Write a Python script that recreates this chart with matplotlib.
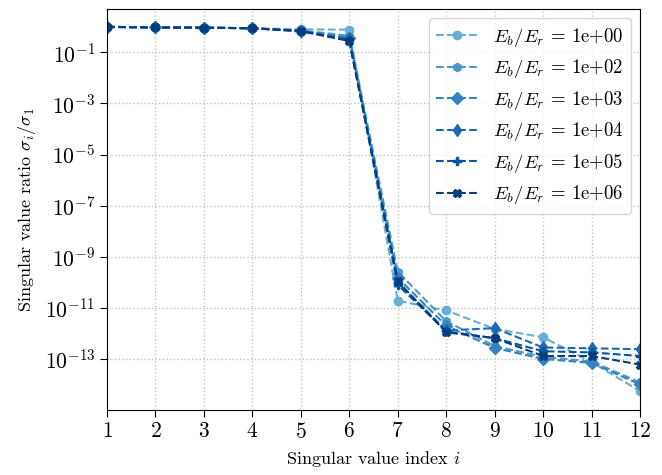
import numpy as np
import matplotlib
matplotlib.use("Agg")
import matplotlib.pyplot as plt

plt.rcParams['font.family'] = 'serif'
plt.rcParams['font.serif'] = ['cmr10', 'DejaVu Serif']
plt.rcParams['mathtext.fontset'] = 'cm'
plt.rcParams['axes.formatter.use_mathtext'] = True

idx = np.arange(1, 13)
labels = ['1e+00', '1e+02', '1e+03', '1e+04', '1e+05', '1e+06']
markers = ['o', 'h', 'D', 'd', 'P', 'X']

s_1e0 = [1, 0.95, 0.93, 0.88, 0.80, 0.78, 1.9e-11, 7.9e-12, 1.5e-12, 7.0e-13, 7.5e-14, 5.5e-15]
s_1e2 = [1, 0.95, 0.93, 0.88, 0.72, 0.45, 2.6e-10, 3.0e-12, 3.2e-13, 1.2e-13, 8.0e-14, 1.2e-14]
s_1e3 = [1, 0.95, 0.93, 0.88, 0.70, 0.38, 1.5e-10, 2.0e-12, 2.7e-13, 1.0e-13, 7.0e-14, 1.0e-14]
s_1e4 = [1, 0.95, 0.93, 0.88, 0.69, 0.33, 1.0e-10, 1.3e-12, 1.6e-12, 2.8e-13, 2.6e-13, 2.4e-13]
s_1e5 = [1, 0.95, 0.93, 0.88, 0.68, 0.30, 8.0e-11, 1.2e-12, 6.5e-13, 2.0e-13, 1.8e-13, 1.3e-13]
s_1e6 = [1, 0.95, 0.93, 0.88, 0.68, 0.28, 1.1e-10, 1.1e-12, 6.5e-13, 1.3e-13, 1.3e-13, 6.0e-14]
series = [s_1e0, s_1e2, s_1e3, s_1e4, s_1e5, s_1e6]

colors = plt.cm.Blues(np.linspace(0.5, 0.95, 6))

fig = plt.figure(figsize=(6.62, 4.75), dpi=100)
ax = fig.add_axes([107/662, 1-410/475, (640-107)/662, (410-9)/475])

for s, lab, m, c in zip(series, labels, markers, colors):
    ax.plot(idx, s, linestyle='--', marker=m, color=c, markersize=6, linewidth=1.5,
            label=r'$E_b/E_r$ = ' + lab)

ax.set_yscale('log')
ax.set_ylim(1e-15, 5)
ax.set_xlim(1, 12)
ax.set_xticks(idx)
ax.set_yticks([10.0**k for k in [-1, -3, -5, -7, -9, -11, -13]])
ax.yaxis.set_minor_locator(matplotlib.ticker.NullLocator())
ax.tick_params(axis='both', labelsize=15.5, direction='out', length=5)
ax.grid(True, linestyle=':', color='#c0c0c0', linewidth=1)
ax.set_xlabel(r'Singular value index $i$', fontsize=13, labelpad=5)
ax.set_ylabel(r'Singular value ratio $\sigma_i/\sigma_1$', fontsize=13, labelpad=5)
ax.legend(loc='upper right', fontsize=13.5, handlelength=2.2, labelspacing=0.45)

fig.savefig('out.png', dpi=100)
